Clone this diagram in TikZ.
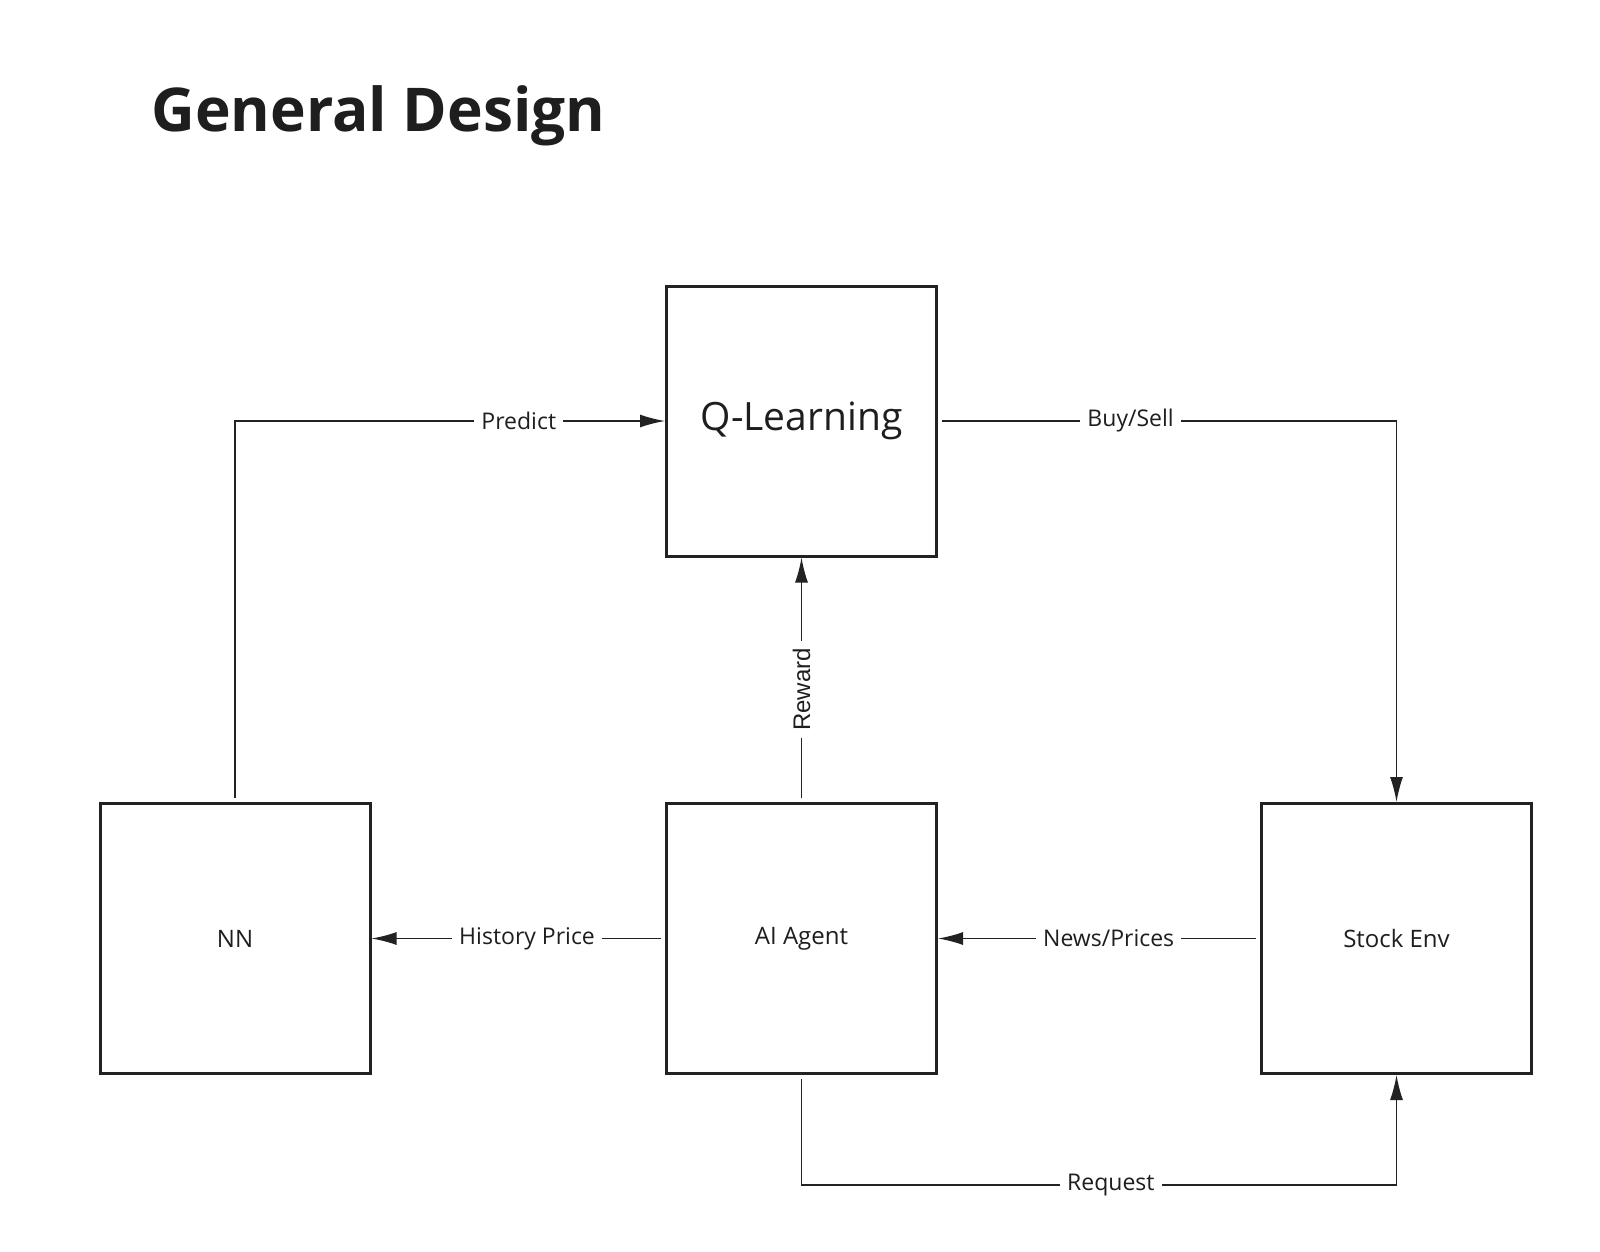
\documentclass[tikz,border=0pt]{standalone}
\usepackage{fontspec}
\setmainfont{Open Sans}
\newfontfamily\rewardfont{Liberation Sans}
\usetikzlibrary{arrows.meta}
\definecolor{inkDark}{HTML}{1E1E1E}
\definecolor{lineDark}{HTML}{222222}

\tikzset{
  blockbox/.style={draw=lineDark,line width=1.5pt,minimum size=135pt,inner sep=0pt,
    font=\fontsize{12}{14}\selectfont,text=inkDark},
  flow/.style={line width=0.75pt,draw=lineDark,-{Latex[length=12.5pt,width=6.5pt]},shorten <=2pt},
  flowlabel/.style={fill=white,inner xsep=3.5pt,inner ysep=1pt,font=\fontsize{11.5}{13}\selectfont,text=inkDark}
}

\begin{document}
\begin{tikzpicture}[x=0.5pt,y=-0.5pt]
  \useasboundingbox (0,0) rectangle (1600,1252);
  \fill[white] (0,0) rectangle (1600,1252);

  % title
  \node[anchor=base west,font=\fontsize{30.2}{36}\selectfont\bfseries,text=inkDark,inner sep=0pt]
    (title) at (151,132) {General Design};

  % blocks
  \node[blockbox,font=\fontsize{19.5}{23}\selectfont] (qlearn) at (801.5,421) {Q-Learning};
  \node[blockbox] (nn) at (235,938.5) {NN};
  \node[blockbox] (agent) at (801.5,938.5) {AI Agent};
  \node[blockbox] (stock) at (1396.5,938.5) {Stock Env};

  % connectors
  \draw[flow] (nn.north) |- node[flowlabel,pos=0.83] {Predict} (qlearn.west);
  \draw[flow] (qlearn.east) -| node[flowlabel,pos=0.21] {Buy/Sell} (stock.north);
  \draw[flow] (agent.north) -- node[flowlabel,pos=0.46,rotate=90,font=\rewardfont\fontsize{12}{14}\selectfont] {Reward} (qlearn.south);
  \draw[flow] (agent.west) -- node[flowlabel,pos=0.47] {History Price} (nn.east);
  \draw[flow] (stock.west) -- node[flowlabel,pos=0.47] {News/Prices} (agent.east);
  \draw[flow] (agent.south) -- ++(0,110) coordinate (reqturn) -| node[flowlabel,pos=0.26] {Request} (stock.south);
\end{tikzpicture}
\end{document}
